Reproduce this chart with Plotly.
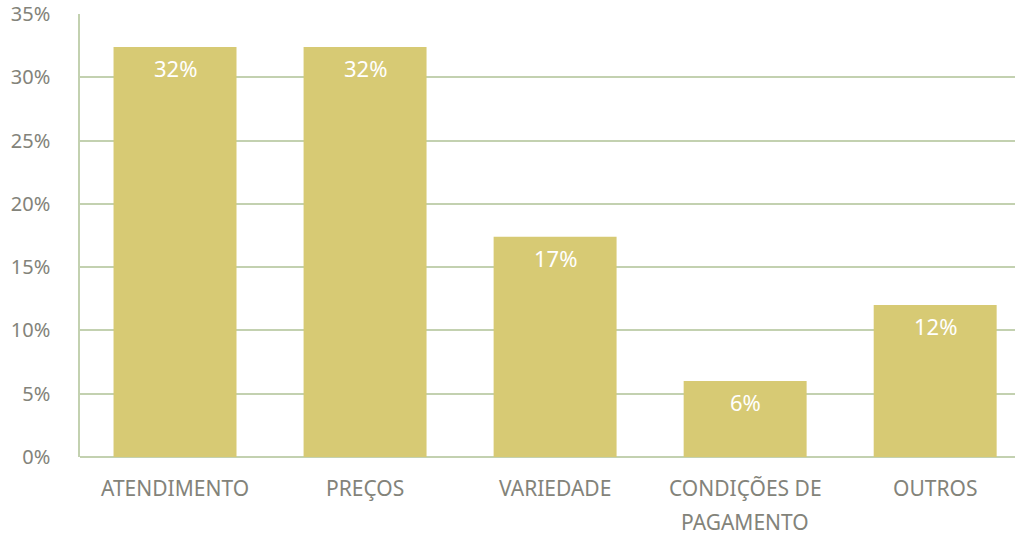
import plotly.graph_objects as go

# Survey results: share of answers per factor
categories = ["ATENDIMENTO", "PREÇOS", "VARIEDADE", "CONDIÇÕES DE<br>PAGAMENTO", "OUTROS"]
values = [32.4, 32.4, 17.4, 6.0, 12.0]
y_ticks = [0, 5, 10, 15, 20, 25, 30, 35]
y_tick_labels = [f"{t}%" for t in y_ticks]

BAR = "#d7ca74"
GRID = "#c3d1b0"
TEXT = "#83837a"
FONT = "Noto Sans"

xs = list(range(len(categories)))

fig = go.Figure(go.Bar(
    x=xs,
    y=values,
    width=0.647,
    marker=dict(color=BAR, line=dict(width=0)),
    hoverinfo="skip",
))

annotations = []
# value labels just inside the top of each bar
for x, v in zip(xs, values):
    annotations.append(dict(
        x=x, y=v, xref="x", yref="y", text=f"{v:.0f}%",
        showarrow=False, yanchor="top", yshift=-4,
        font=dict(family=FONT, size=22, color="white"),
    ))
# category labels below the axis, one annotation per line
for x, cat in zip(xs, categories):
    for i, line in enumerate(cat.split("<br>")):
        annotations.append(dict(
            x=x, y=0, xref="x", yref="paper", text=line,
            showarrow=False, yanchor="middle", yshift=-31 - 34 * i,
            font=dict(family=FONT, size=21, color=TEXT),
        ))

fig.update_layout(
    width=1015, height=536,
    margin=dict(l=80, r=0, t=14, b=79),
    paper_bgcolor="white", plot_bgcolor="white",
    showlegend=False,
    annotations=annotations,
    xaxis=dict(
        range=[-0.5, 4.42], showticklabels=False, showgrid=False,
        zeroline=False, showline=False, ticks="", fixedrange=True,
    ),
    yaxis=dict(
        range=[0, 35], tickvals=y_ticks, ticktext=y_tick_labels,
        showgrid=True, gridcolor=GRID, gridwidth=1.5,
        showline=True, linecolor=GRID, linewidth=1.5,
        zeroline=True, zerolinecolor=GRID, zerolinewidth=1.5,
        ticks="", ticklabelstandoff=24,
        tickfont=dict(family=FONT, size=20, color=TEXT),
        fixedrange=True,
    ),
)

fig.write_html("out.html")
